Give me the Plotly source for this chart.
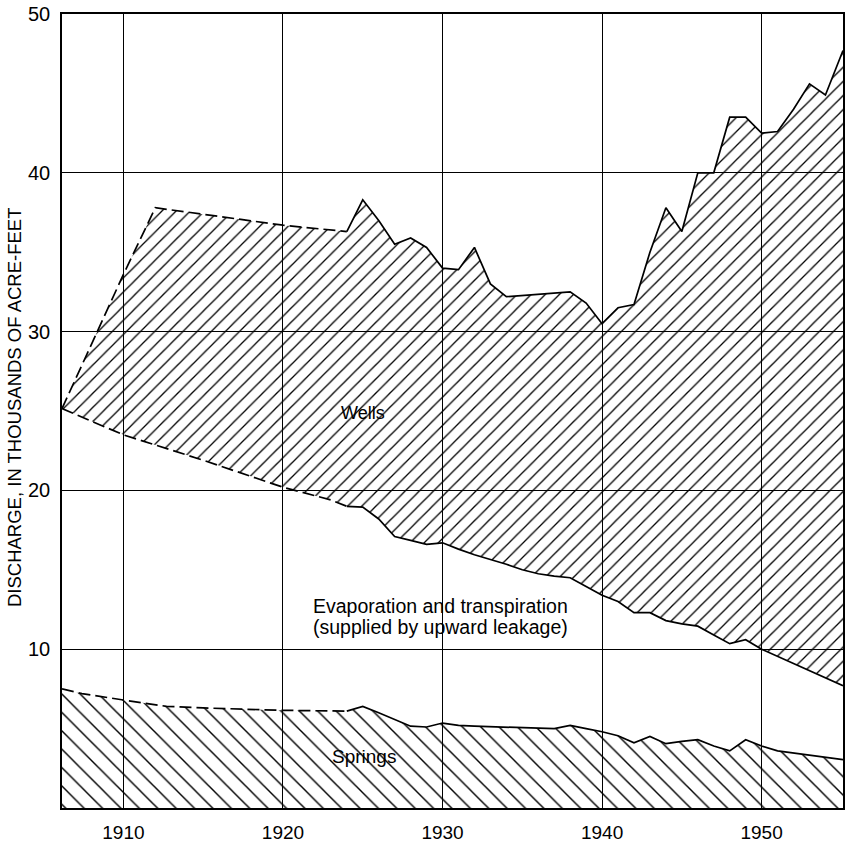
import plotly.graph_objects as go

# ---- data (thousands of acre-feet) ----
wells_years = [1906.15, 1910, 1912, 1920, 1924, 1925, 1926, 1927, 1928, 1929, 1930, 1931, 1932,
               1933, 1934, 1938, 1939, 1940, 1941, 1942, 1943, 1944, 1945, 1946, 1947, 1948,
               1949, 1950, 1951, 1952, 1953, 1954, 1955.1]
wells_total = [25.15, 33.6, 37.8, 36.7, 36.3, 38.3, 37.0, 35.5, 35.9, 35.3, 34.0, 33.9, 35.3,
               33.0, 32.2, 32.5, 31.8, 30.5, 31.5, 31.7, 35.0, 37.8, 36.3, 40.0, 40.0, 43.5,
               43.5, 42.5, 42.6, 44.0, 45.6, 44.9, 47.7]

evap_years = [1906.15, 1910, 1915, 1920, 1923, 1924, 1925, 1926, 1927, 1928, 1929, 1930, 1931,
              1932, 1933, 1934, 1935, 1936, 1937, 1938, 1939, 1940, 1941, 1942, 1943, 1944,
              1945, 1946, 1947, 1948, 1949, 1950, 1955.1]
evap_total = [25.15, 23.5, 21.9, 20.2, 19.4, 19.0, 18.95, 18.2, 17.1, 16.85, 16.6, 16.7, 16.3,
              15.95, 15.65, 15.35, 15.0, 14.75, 14.6, 14.5, 13.95, 13.4, 13.0, 12.3, 12.3, 11.8,
              11.6, 11.45, 10.9, 10.35, 10.6, 10.0, 7.7]

springs_years = [1906.15, 1907.4, 1910, 1912.7, 1915, 1920, 1924, 1925, 1926, 1927, 1928, 1929,
                 1930, 1931, 1932, 1937, 1938, 1939, 1940, 1941, 1942, 1943, 1944, 1945, 1946,
                 1947, 1948, 1949, 1950, 1951, 1955.1]
springs = [7.5, 7.2, 6.8, 6.4, 6.3, 6.15, 6.1, 6.4, 6.0, 5.6, 5.15, 5.1,
           5.35, 5.2, 5.15, 5.0, 5.2, 5.0, 4.8, 4.55, 4.1, 4.5, 4.05, 4.2, 4.3,
           3.9, 3.6, 4.3, 3.9, 3.6, 3.05]

estimated_until = 1924  # dashed (estimated) portion of each boundary

x_ticks = [1910, 1920, 1930, 1940, 1950]
y_ticks = [10, 20, 30, 40, 50]

FONT = "Liberation Sans"

fig = go.Figure()

# springs fill
fig.add_trace(go.Scatter(x=springs_years, y=springs, mode="lines", line=dict(width=0),
                         fill="tozeroy", fillcolor="rgba(0,0,0,0)",
                         fillpattern=dict(shape="\\", size=13, solidity=0.11, fgcolor="black",
                                          bgcolor="rgba(0,0,0,0)", fillmode="replace"),
                         hoverinfo="skip"))
# evap boundary (invisible base for wells fill)
fig.add_trace(go.Scatter(x=evap_years, y=evap_total, mode="lines", line=dict(width=0),
                         hoverinfo="skip"))
# wells fill
fig.add_trace(go.Scatter(x=wells_years, y=wells_total, mode="lines", line=dict(width=0),
                         fill="tonexty", fillcolor="rgba(0,0,0,0)",
                         fillpattern=dict(shape="/", size=10, solidity=0.13, fgcolor="black",
                                          bgcolor="rgba(0,0,0,0)", fillmode="replace"),
                         hoverinfo="skip"))


def add_boundary(xs, ys):
    k = max(i for i, v in enumerate(xs) if v <= estimated_until)
    fig.add_trace(go.Scatter(x=xs[:k + 1], y=ys[:k + 1], mode="lines",
                             line=dict(color="black", width=1.7, dash="12px,5px"),
                             hoverinfo="skip"))
    fig.add_trace(go.Scatter(x=xs[k:], y=ys[k:], mode="lines",
                             line=dict(color="black", width=1.7), hoverinfo="skip"))


add_boundary(springs_years, springs)
add_boundary(evap_years, evap_total)
add_boundary(wells_years, wells_total)

fig.add_annotation(x=1925.0, y=24.85, text="Wells", showarrow=False,
                   font=dict(family=FONT, size=18, color="black"))
fig.add_annotation(x=1929.9, y=12.75, text="Evaporation and transpiration",
                   showarrow=False, font=dict(family=FONT, size=19.5, color="black"))
fig.add_annotation(x=1929.9, y=11.4, text="(supplied by upward leakage)",
                   showarrow=False, font=dict(family=FONT, size=19.5, color="black"))
fig.add_annotation(x=1925.05, y=3.25, text="Springs", showarrow=False,
                   font=dict(family=FONT, size=19, color="black"))
fig.add_annotation(xref="paper", yref="paper", x=0, y=0.505, xshift=-48,
                   xanchor="center", yanchor="middle",
                   text="DISCHARGE, IN THOUSANDS OF ACRE-FEET", textangle=-90,
                   showarrow=False, font=dict(family=FONT, size=18.5, color="black"))

fig.update_xaxes(range=[1906.15, 1955.1], tickvals=x_ticks, ticktext=[str(v) for v in x_ticks],
                 showgrid=True, gridcolor="black", gridwidth=1, zeroline=False,
                 showline=True, linecolor="black", linewidth=1.5, mirror=True,
                 ticklabelstandoff=6,
                 tickfont=dict(family=FONT, size=19, color="black"), ticks="")
fig.update_yaxes(range=[0, 50], tickvals=y_ticks, ticktext=[str(v) for v in y_ticks],
                 showgrid=True, gridcolor="black", gridwidth=1, zeroline=False,
                 showline=True, linecolor="black", linewidth=1.5, mirror=True,
                 ticklabelstandoff=6,
                 tickfont=dict(family=FONT, size=20, color="black"), ticks="")

fig.update_layout(width=847, height=845, showlegend=False,
                  margin=dict(l=62, r=2, t=14, b=30),
                  plot_bgcolor="white", paper_bgcolor="white")

fig.write_html("out.html", config={"displayModeBar": False},
               post_script="document.body.style.margin='0';document.body.style.overflow='hidden';")
